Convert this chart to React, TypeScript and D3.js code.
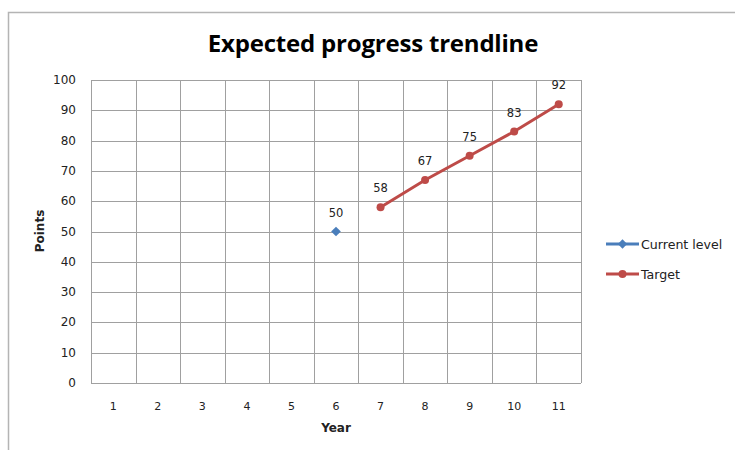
import React, { useEffect, useRef } from "react";
import * as d3 from "d3";

const years = ["1", "2", "3", "4", "5", "6", "7", "8", "9", "10", "11"];
const currentLevel: Array<{ year: string; value: number }> = [{ year: "6", value: 50 }];
const target: Array<{ year: string; value: number }> = [
  { year: "7", value: 58 },
  { year: "8", value: 67 },
  { year: "9", value: 75 },
  { year: "10", value: 83 },
  { year: "11", value: 92 },
];
const yTicks = [0, 10, 20, 30, 40, 50, 60, 70, 80, 90, 100];

const BLUE = "#4a7ebb";
const RED = "#be4b48";
const GRID = "#a0a0a0";
const TEXT_FONT = "'DejaVu Sans', Verdana, sans-serif";

export default function App() {
  const svgRef = useRef<SVGSVGElement>(null);

  useEffect(() => {
    if (!svgRef.current) return;
    const width = 735;
    const height = 450;
    const svg = d3.select(svgRef.current).attr("width", width).attr("height", height);
    svg.selectAll("*").remove();

    // chart frame
    svg
      .append("rect")
      .attr("x", 8.5)
      .attr("y", 12.5)
      .attr("width", 740)
      .attr("height", 450)
      .attr("fill", "#fff")
      .attr("stroke", "#b4b4b4")
      .attr("stroke-width", 1.5);

    const margin = { top: 80, left: 91, right: 581, bottom: 383 };

    const x = d3.scaleBand().domain(years).range([margin.left, margin.right]);
    const y = d3.scaleLinear().domain([0, 100]).range([margin.bottom, margin.top]);

    const g = svg.append("g");

    // horizontal grid
    g.selectAll(".hgrid")
      .data(yTicks)
      .enter()
      .append("line")
      .attr("x1", margin.left)
      .attr("x2", margin.right)
      .attr("y1", (d) => Math.round(y(d)) + 0.5)
      .attr("y2", (d) => Math.round(y(d)) + 0.5)
      .attr("stroke", GRID)
      .attr("stroke-width", 1);

    // vertical grid (category boundaries)
    const bounds = years.map((d) => x(d) || 0).concat([margin.right]);
    g.selectAll(".vgrid")
      .data(bounds)
      .enter()
      .append("line")
      .attr("x1", (d) => Math.round(d) + 0.5)
      .attr("x2", (d) => Math.round(d) + 0.5)
      .attr("y1", margin.top)
      .attr("y2", margin.bottom)
      .attr("stroke", GRID)
      .attr("stroke-width", 1);

    // y tick labels
    g.selectAll(".ylab")
      .data(yTicks)
      .enter()
      .append("text")
      .attr("x", 76)
      .attr("y", (d) => y(d) + 4)
      .attr("text-anchor", "end")
      .style("font-family", TEXT_FONT)
      .style("font-size", "12px")
      .style("fill", "#222")
      .text((d) => d);

    // x tick labels
    g.selectAll(".xlab")
      .data(years)
      .enter()
      .append("text")
      .attr("x", (d) => (x(d) || 0) + x.bandwidth() / 2)
      .attr("y", 410)
      .attr("text-anchor", "middle")
      .style("font-family", TEXT_FONT)
      .style("font-size", "11px")
      .style("fill", "#222")
      .text((d) => d);

    // axis titles
    svg
      .append("text")
      .attr("x", 336)
      .attr("y", 432)
      .attr("text-anchor", "middle")
      .style("font-family", TEXT_FONT)
      .style("font-size", "12px")
      .style("font-weight", "bold")
      .style("fill", "#222")
      .text("Year");

    svg
      .append("text")
      .attr("transform", `translate(44,231) rotate(-90)`)
      .attr("text-anchor", "middle")
      .style("font-family", TEXT_FONT)
      .style("font-size", "12px")
      .style("font-weight", "bold")
      .style("fill", "#222")
      .text("Points");

    // title
    svg
      .append("text")
      .attr("x", 373)
      .attr("y", 52)
      .attr("text-anchor", "middle")
      .style("font-family", "'Open Sans', sans-serif")
      .style("font-size", "24px")
      .style("font-weight", "bold")
      .style("letter-spacing", "-0.2px")
      .style("fill", "#000")
      .text("Expected progress trendline");

    const cx = (d: { year: string }) => (x(d.year) || 0) + x.bandwidth() / 2;

    // target line
    const line = d3
      .line<{ year: string; value: number }>()
      .x(cx)
      .y((d) => y(d.value));

    g.append("path")
      .datum(target)
      .attr("fill", "none")
      .attr("stroke", RED)
      .attr("stroke-width", 3)
      .attr("d", line);

    g.selectAll(".tdot")
      .data(target)
      .enter()
      .append("circle")
      .attr("cx", cx)
      .attr("cy", (d) => y(d.value))
      .attr("r", 4)
      .attr("fill", RED);

    // current level diamond
    const diamond = d3.symbol().type(d3.symbolDiamond2).size(60);
    g.selectAll(".cdot")
      .data(currentLevel)
      .enter()
      .append("path")
      .attr("d", diamond)
      .attr("transform", (d) => `translate(${cx(d)},${y(d.value)})`)
      .attr("fill", BLUE);

    // data labels
    g.selectAll(".dlab")
      .data([...currentLevel, ...target])
      .enter()
      .append("text")
      .attr("x", cx)
      .attr("y", (d) => y(d.value) - 15)
      .attr("text-anchor", "middle")
      .style("font-family", TEXT_FONT)
      .style("font-size", "11.5px")
      .style("fill", "#222")
      .text((d) => d.value);

    // legend
    const legend = [
      { name: "Current level", color: BLUE, marker: "diamond" },
      { name: "Target", color: RED, marker: "circle" },
    ];
    const lg = svg
      .selectAll(".leg")
      .data(legend)
      .enter()
      .append("g")
      .attr("transform", (_d, i) => `translate(606,${244 + i * 30})`);
    lg.append("line")
      .attr("x1", 0)
      .attr("x2", 33)
      .attr("y1", 0)
      .attr("y2", 0)
      .attr("stroke", (d) => d.color)
      .attr("stroke-width", 3);
    lg.append("path")
      .attr("d", (d) =>
        d.marker === "diamond"
          ? d3.symbol().type(d3.symbolDiamond2).size(55)()
          : d3.symbol().type(d3.symbolCircle).size(50)(),
      )
      .attr("transform", "translate(16.5,0)")
      .attr("fill", (d) => d.color);
    lg.append("text")
      .attr("x", 35)
      .attr("y", 4.5)
      .style("font-family", TEXT_FONT)
      .style("font-size", "12.6px")
      .style("fill", "#222")
      .text((d) => d.name);
  }, []);

  return (
    <svg
      ref={svgRef}
      style={{ position: "absolute", left: 0, top: 0, display: "block" }}
    />
  );
}
